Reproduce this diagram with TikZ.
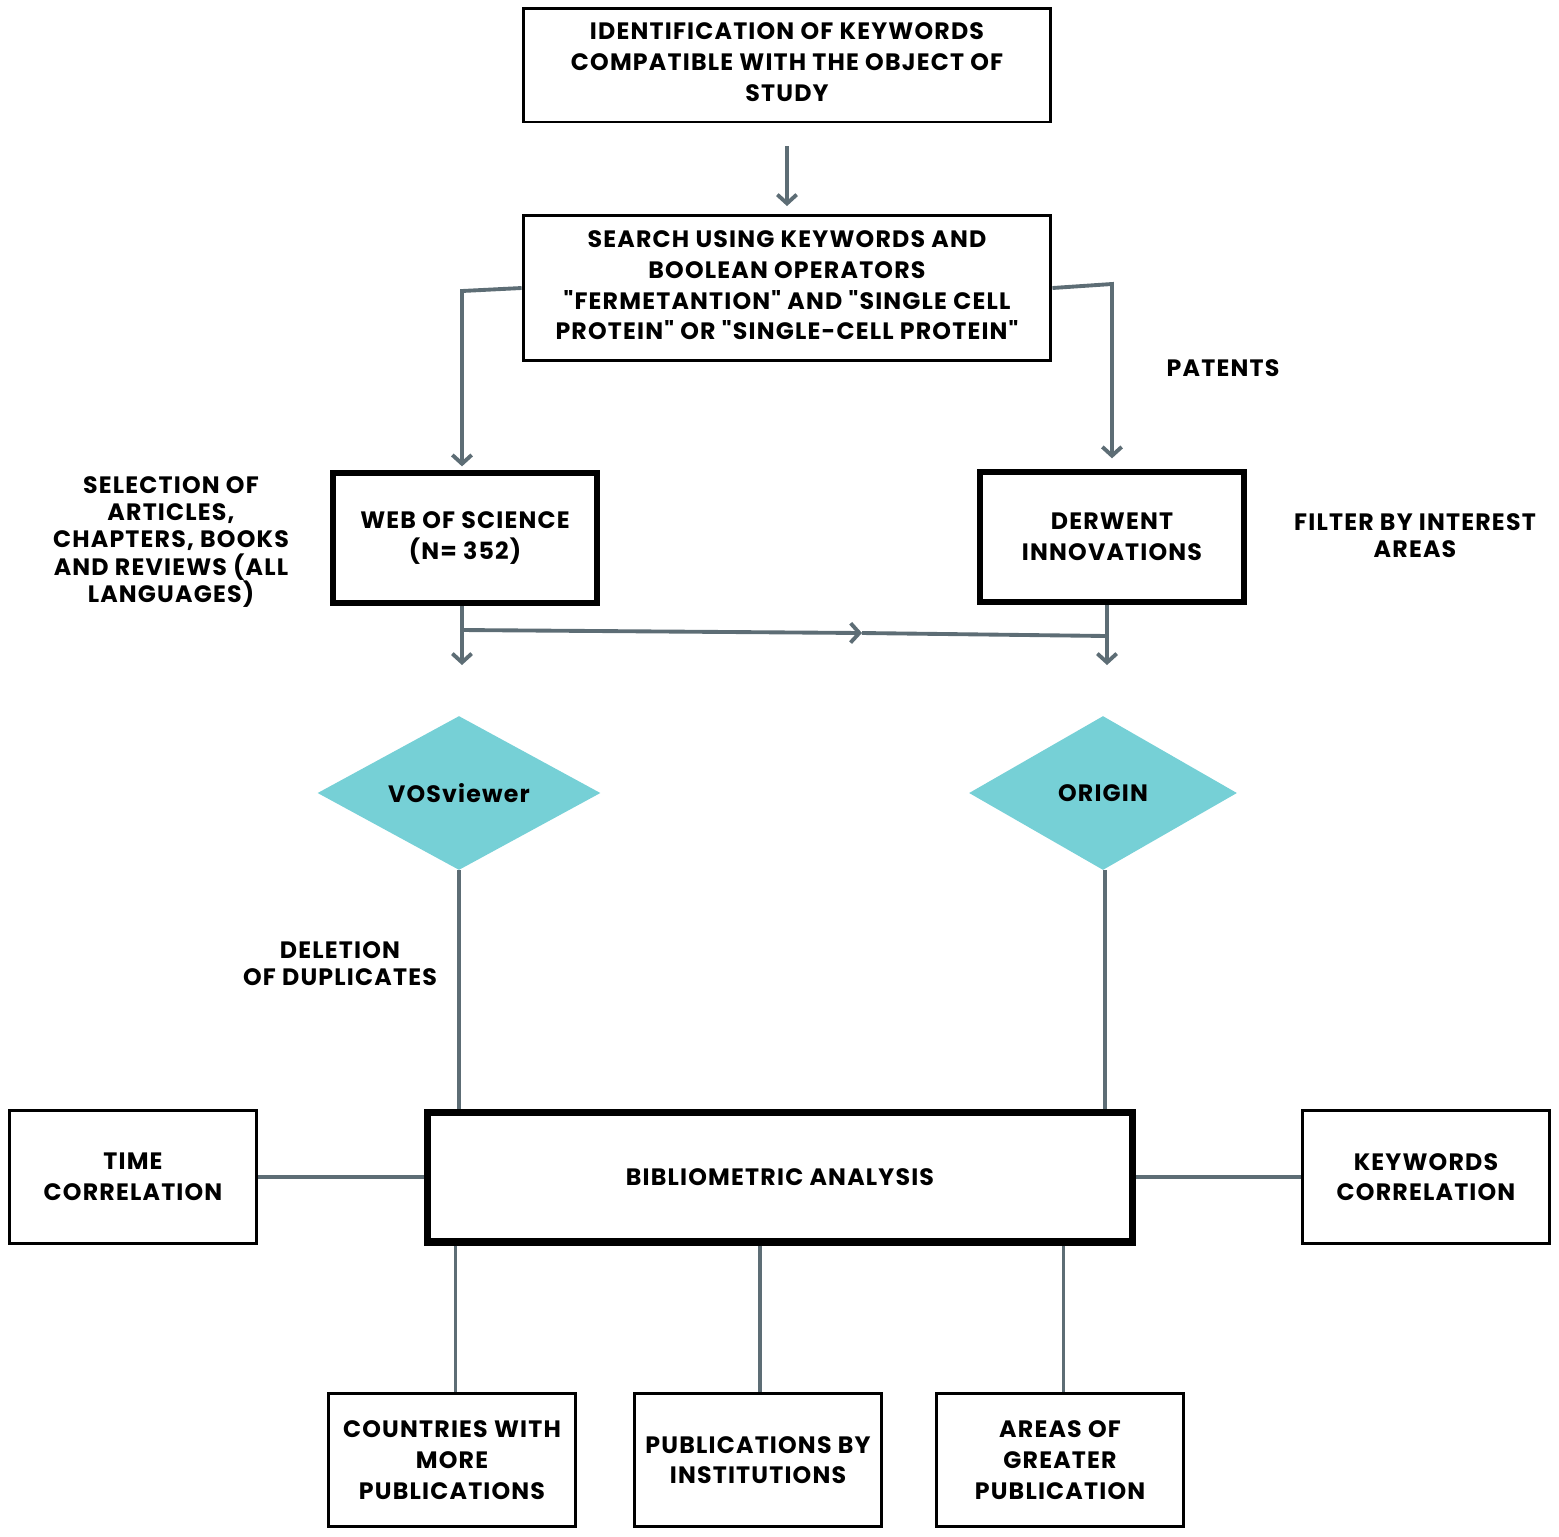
\documentclass[tikz,border=0pt]{standalone}
\usepackage{fontspec}
\setmainfont{Poppins}[Ligatures=TeXOff, LetterSpace=5]
\usetikzlibrary{arrows.meta,shapes.geometric}
\definecolor{linegray}{HTML}{5D6D75}
\definecolor{diamondcyan}{HTML}{76D0D6}

\begin{document}
\begin{tikzpicture}[x=0.02cm, y=-0.02cm]
\tikzset{every node/.style={font=\bfseries\fontsize{13.5}{17.5}\selectfont, align=center, inner sep=0pt}}
\tikzset{box/.style={draw=black, line width=1.7pt, minimum width=4.94cm, minimum height=2.66cm}}
\tikzset{thickbox/.style={draw=black, line width=3.6pt}}
\tikzset{link/.style={draw=linegray, line width=2.2pt}}
\tikzset{tip/.style={-{Straight Barb[length=5pt, width=11pt]}}}
\tikzset{rhomb/.style={diamond, fill=diamondcyan, aspect=1.84, minimum width=5.66cm, minimum height=3.08cm}}
\tikzset{note/.style={font=\bfseries\fontsize{13.5}{15.5}\selectfont}}
    \useasboundingbox (0,0) rectangle (1559,1536);

    \node[box, minimum width=10.56cm, minimum height=2.28cm] (ident) at (787,65) {IDENTIFICATION OF KEYWORDS\\COMPATIBLE WITH THE OBJECT OF\\STUDY\vspace{3pt}};
    \node[box, minimum width=10.56cm, minimum height=2.9cm] (search) at (787,288) {SEARCH USING KEYWORDS AND\\BOOLEAN OPERATORS\\"FERMETANTION" AND "SINGLE CELL\\PROTEIN" OR "SINGLE-CELL PROTEIN"\vspace{3pt}};

    \node[thickbox, minimum width=5.28cm, minimum height=2.6cm] (wos) at (465,538) {WEB OF SCIENCE\\(N= 352)};
    \node[thickbox, minimum width=5.28cm, minimum height=2.6cm] (derwent) at (1112,537) {DERWENT\\INNOVATIONS};

    \node[note] (patents) at (1223,368) {PATENTS};
    \node[note] (selection) at (171,542) {SELECTION OF\\ARTICLES,\\CHAPTERS, BOOKS\\AND REVIEWS (ALL\\LANGUAGES)};
    \node[note] (filter) at (1415,536) {FILTER BY INTEREST\\AREAS};

    \node[rhomb] (vos) at (459,793) {VOSviewer};
    \node[rhomb, aspect=1.74, minimum width=5.36cm] (origin) at (1103,793) {ORIGIN};

    \node[note] (deletion) at (340,964) {DELETION\\OF DUPLICATES};

    \node[draw=black, line width=4pt, minimum width=14.12cm, minimum height=2.6cm] (biblio) at (780,1177) {BIBLIOMETRIC ANALYSIS\vspace{4pt}};
    \node[box] (timecorr) at (133,1177) {TIME\\CORRELATION};
    \node[box] (keycorr) at (1426,1177) {KEYWORDS\\CORRELATION};

    \node[box] (countries) at (452,1460) {COUNTRIES WITH\\MORE\\PUBLICATIONS};
    \node[box] (institutions) at (758,1460) {PUBLICATIONS BY\\INSTITUTIONS};
    \node[box] (areas) at (1060,1460) {AREAS OF\\GREATER\\PUBLICATION};

    \coordinate (woscorner) at (462,291);
    \coordinate (dwcorner) at (1112,284);
    \coordinate (wosend) at (462,665);
    \coordinate (branch) at (462,630);
    \coordinate (midtip) at (862,633);
    \coordinate (dwjoin) at (1107,636);
    \coordinate (dwend) at (1107,665);

    \draw[link, tip, shorten <=0.46cm, shorten >=0.16cm] (ident) -- (search);
    \draw[link, tip] (search.west) -- (woscorner) -- ([yshift=2pt]woscorner |- wos.north);
    \draw[link, tip] (search.east) -- (dwcorner) -- ([yshift=6pt]derwent.north);
    \draw[link, tip] (woscorner |- wos.south) -- (wosend);
    \draw[link, tip] (branch) -- (midtip);
    \draw[link] (midtip) -- (dwjoin);
    \draw[link, tip] (dwend |- derwent.south) -- (dwend);

    \draw[link] (vos.south) -- (vos.south |- biblio.north);
    \draw[link] ([xshift=1pt]origin.south) -- ([xshift=1pt]origin.south |- biblio.north);
    \draw[link] (timecorr.east) -- (biblio.west);
    \draw[link] (biblio.east) -- (keycorr.west);
    \draw[link] ([xshift=2pt]countries.north |- biblio.south) -- ([xshift=2pt]countries.north);
    \draw[link] ([xshift=1pt]institutions.north |- biblio.south) -- ([xshift=1pt]institutions.north);
    \draw[link] ([xshift=2pt]areas.north |- biblio.south) -- ([xshift=2pt]areas.north);
\end{tikzpicture}
\end{document}
